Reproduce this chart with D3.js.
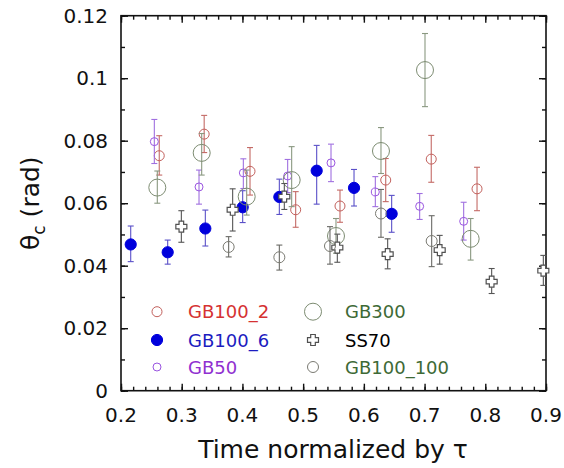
<!DOCTYPE html>
<html>
<head>
<meta charset="utf-8">
<script src="https://cdn.jsdelivr.net/npm/d3@7"></script>
<style>
  body { margin: 0; background: #fff; }
  svg { font-family: "DejaVu Sans", sans-serif; }
</style>
</head>
<body>
<div id="chart"></div>
<script>
var svgWidth = 564;
var svgHeight = 468;

var margin = { top: 15.7, right: 18, bottom: 77.3, left: 121 };
var width = svgWidth - margin.left - margin.right;
var height = svgHeight - margin.top - margin.bottom;

// data: [time, theta, lower end of bar, upper end of bar]
var gb100_2 = [
  [0.263, 0.0752, 0.0690, 0.0816],
  [0.337, 0.0821, 0.0762, 0.0881],
  [0.4125, 0.0702, 0.0626, 0.0778],
  [0.4877, 0.0579, 0.0523, 0.0637],
  [0.5607, 0.0591, 0.0539, 0.0642],
  [0.636, 0.0674, 0.0605, 0.0743],
  [0.711, 0.0741, 0.0667, 0.0817],
  [0.7864, 0.0646, 0.0576, 0.0715]
];
var gb100_6 = [
  [0.216, 0.0468, 0.0413, 0.0527],
  [0.2769, 0.0443, 0.0405, 0.0482],
  [0.3389, 0.0519, 0.0463, 0.0578],
  [0.4004, 0.0587, 0.0538, 0.0640],
  [0.4608, 0.0620, 0.0564, 0.0677],
  [0.5223, 0.0704, 0.0597, 0.0785],
  [0.5838, 0.0649, 0.0591, 0.0708],
  [0.6458, 0.0566, 0.0507, 0.0625]
];
var gb50 = [
  [0.2549, 0.0797, 0.0727, 0.0868],
  [0.3285, 0.0652, 0.0597, 0.0706],
  [0.4015, 0.0697, 0.0647, 0.0742],
  [0.4745, 0.0687, 0.0634, 0.0740],
  [0.5459, 0.0729, 0.0669, 0.0789],
  [0.6189, 0.0636, 0.0589, 0.0685],
  [0.6919, 0.0590, 0.0548, 0.0631],
  [0.7644, 0.0542, 0.0482, 0.0603]
];
var gb300 = [
  [0.2598, 0.0650, 0.0600, 0.0703],
  [0.3329, 0.0761, 0.0690, 0.0823],
  [0.4070, 0.0621, 0.0562, 0.0706],
  [0.4811, 0.0674, 0.0589, 0.0781],
  [0.5541, 0.0495, 0.0440, 0.0551],
  [0.6282, 0.0767, 0.0695, 0.0842],
  [0.7007, 0.1026, 0.0909, 0.1143],
  [0.7759, 0.0486, 0.0418, 0.0551]
];
var ss70 = [
  [0.2994, 0.0525, 0.0475, 0.0576],
  [0.3839, 0.0579, 0.0511, 0.0646],
  [0.4690, 0.0621, 0.0580, 0.0663],
  [0.5563, 0.0458, 0.0411, 0.0501],
  [0.6392, 0.0437, 0.0390, 0.0486],
  [0.7249, 0.0450, 0.0405, 0.0497],
  [0.8105, 0.0349, 0.0311, 0.0391],
  [0.8956, 0.0384, 0.0337, 0.0433]
];
var gb100_100 = [
  [0.3773, 0.0460, 0.0428, 0.0493],
  [0.4608, 0.0427, 0.0386, 0.0466],
  [0.5442, 0.0463, 0.0405, 0.0525],
  [0.6282, 0.0567, 0.0491, 0.0644],
  [0.7117, 0.0479, 0.0397, 0.0560]
];

var xTicks = [0.2, 0.3, 0.4, 0.5, 0.6, 0.7, 0.8, 0.9];
var yTicks = [0, 0.02, 0.04, 0.06, 0.08, 0.1, 0.12];

var series = [
  { name: "GB100_2", data: gb100_2, shape: "circle", r: 5, stroke: "#c2605c", bar: "#c46a66", fill: "none", text: "#d53232", col: 0, row: 0 },
  { name: "GB100_6", data: gb100_6, shape: "circle", r: 5.6, stroke: "#0000dc", bar: "#5a50c8", fill: "#0000dc", text: "#1c1cc0", col: 0, row: 1 },
  { name: "GB50", data: gb50, shape: "circle", r: 4, stroke: "#9a55e0", bar: "#a070e0", fill: "none", text: "#9030d0", col: 0, row: 2 },
  { name: "GB300", data: gb300, shape: "circle", r: 8.5, stroke: "#7d8c72", bar: "#8a9880", fill: "none", text: "#3e6a36", col: 1, row: 0 },
  { name: "SS70", data: ss70, shape: "cross", r: 5.5, stroke: "#505050", bar: "#555555", fill: "#ffffff", text: "#000000", col: 1, row: 1 },
  { name: "GB100_100", data: gb100_100, shape: "circle", r: 5.5, stroke: "#7a7a72", bar: "#6a6a66", fill: "none", text: "#3e6a36", col: 1, row: 2 }
];

var svg = d3.select("#chart")
  .append("svg")
  .attr("width", svgWidth)
  .attr("height", svgHeight);

var chartGroup = svg.append("g")
  .attr("transform", `translate(${margin.left}, ${margin.top})`);

var xScale = d3.scaleLinear().domain([0.2, 0.9]).range([0, width]);
var yScale = d3.scaleLinear().domain([0, 0.12]).range([height, 0]);

// ticks on all four sides, pointing inward
var xMinor = d3.range(0.2, 0.9001, 0.02);
var yMinor = d3.range(0, 0.12001, 0.01);

function tickAxis(axis, ticks, size) {
  return axis.tickValues(ticks).tickSize(size).tickFormat("");
}

chartGroup.append("g").attr("transform", `translate(0, ${height})`)
  .call(tickAxis(d3.axisTop(xScale), xMinor, 4));
chartGroup.append("g").attr("transform", `translate(0, ${height})`)
  .call(tickAxis(d3.axisTop(xScale), xTicks, 7));
chartGroup.append("g")
  .call(tickAxis(d3.axisBottom(xScale), xMinor, 4));
chartGroup.append("g")
  .call(tickAxis(d3.axisBottom(xScale), xTicks, 7));
chartGroup.append("g")
  .call(tickAxis(d3.axisRight(yScale), yMinor, 4));
chartGroup.append("g")
  .call(tickAxis(d3.axisRight(yScale), yTicks, 7));
chartGroup.append("g").attr("transform", `translate(${width}, 0)`)
  .call(tickAxis(d3.axisLeft(yScale), yMinor, 4));
chartGroup.append("g").attr("transform", `translate(${width}, 0)`)
  .call(tickAxis(d3.axisLeft(yScale), yTicks, 7));

chartGroup.selectAll(".domain").remove();
chartGroup.selectAll(".tick line").attr("stroke", "#111").attr("stroke-width", 1.4);

chartGroup.append("rect")
  .attr("width", width)
  .attr("height", height)
  .attr("fill", "none")
  .attr("stroke", "#111")
  .attr("stroke-width", 1.6);

// tick labels
chartGroup.selectAll(".xlab")
  .data(xTicks)
  .enter()
  .append("text")
  .attr("x", d => xScale(d))
  .attr("y", height + 31)
  .attr("text-anchor", "middle")
  .attr("font-size", 20)
  .attr("fill", "#111")
  .text(d => d3.format(".1f")(d));

chartGroup.selectAll(".ylab")
  .data(yTicks)
  .enter()
  .append("text")
  .attr("x", -13)
  .attr("y", d => yScale(d) + 7)
  .attr("text-anchor", "end")
  .attr("font-size", 20)
  .attr("fill", "#111")
  .text(d => d === 0 ? "0" : String(+d.toFixed(2)));

// axis titles
chartGroup.append("text")
  .attr("x", 212)
  .attr("y", height + 67)
  .attr("text-anchor", "middle")
  .attr("font-size", 25)
  .attr("fill", "#111")
  .text("Time normalized by \u03c4");

var yTitle = svg.append("text")
  .attr("transform", `translate(39, ${margin.top + height / 2}) rotate(-90)`)
  .attr("text-anchor", "middle")
  .attr("font-size", 25)
  .attr("fill", "#111");
yTitle.append("tspan").text("\u03b8");
yTitle.append("tspan").attr("font-size", 17).attr("dy", 6).text("c");
yTitle.append("tspan").attr("dy", -6).text(" (rad)");

function crossPath(s) {
  var a = s * 0.42;
  return `M${-a},${-s}H${a}V${-a}H${s}V${a}H${a}V${s}H${-a}V${a}H${-s}V${-a}H${-a}Z`;
}

function drawMarker(g, d, x, y) {
  if (d.shape === "cross") {
    g.append("path")
      .attr("d", crossPath(d.r))
      .attr("transform", `translate(${x}, ${y})`)
      .attr("fill", d.fill)
      .attr("stroke", d.stroke)
      .attr("stroke-width", 1.2);
  } else {
    g.append("circle")
      .attr("cx", x)
      .attr("cy", y)
      .attr("r", d.r)
      .attr("fill", d.fill)
      .attr("stroke", d.stroke)
      .attr("stroke-width", 1);
  }
}

// error bars and markers
series.forEach(function (s) {
  var g = chartGroup.append("g");
  s.data.forEach(function (p) {
    var cx = xScale(p[0]);
    g.append("line")
      .attr("x1", cx).attr("x2", cx)
      .attr("y1", yScale(p[2])).attr("y2", yScale(p[3]))
      .attr("stroke", s.bar).attr("stroke-width", 1.1);
    [p[2], p[3]].forEach(function (v) {
      g.append("line")
        .attr("x1", cx - 3).attr("x2", cx + 3)
        .attr("y1", yScale(v)).attr("y2", yScale(v))
        .attr("stroke", s.bar).attr("stroke-width", 1.1);
    });
  });
  s.data.forEach(function (p) {
    drawMarker(g, s, xScale(p[0]), yScale(p[1]));
  });
});

// legend
var legendX = [157, 313];
var textX = [188, 345];
var legendY = [311.7, 340, 367];
var legend = svg.append("g");
series.forEach(function (s) {
  var ly = legendY[s.row];
  drawMarker(legend, s, legendX[s.col], ly);
  legend.append("text")
    .attr("x", textX[s.col])
    .attr("y", ly + 6.5)
    .attr("font-size", 18)
    .attr("fill", s.text)
    .text(s.name);
});
</script>
</body>
</html>
